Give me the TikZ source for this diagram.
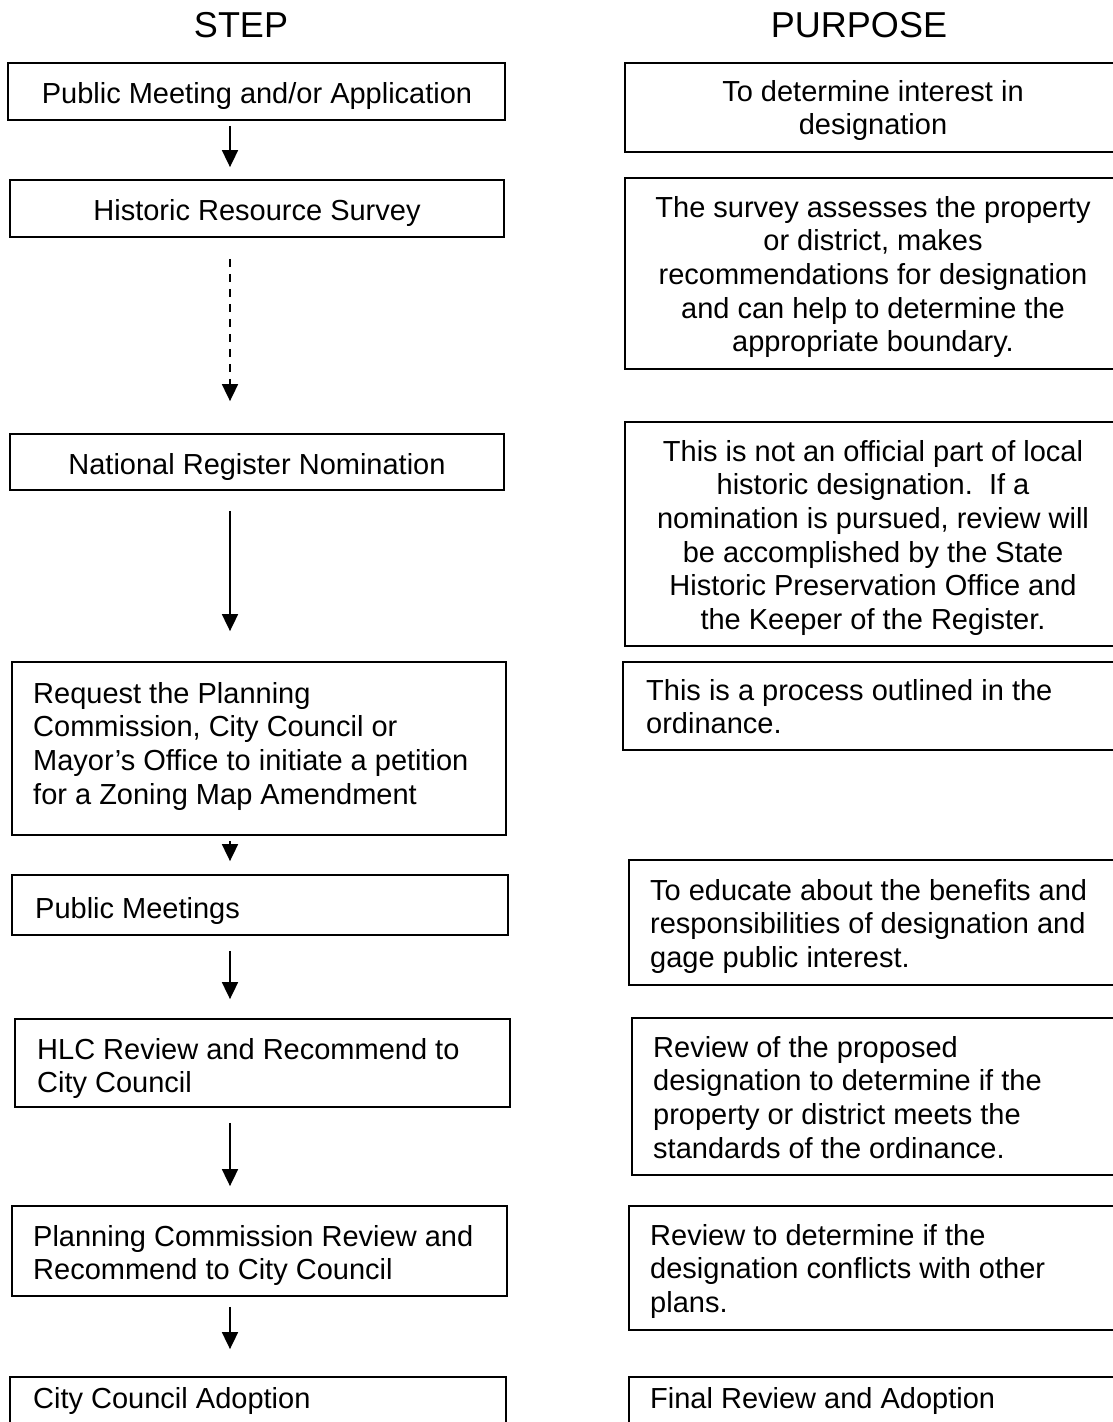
\documentclass[tikz,border=0pt]{standalone}
\usepackage{fontspec}
\setmainfont{Liberation Sans}
\usetikzlibrary{arrows.meta}
\newcommand\tsq{\rule{0pt}{22pt}}
\tikzset{
  box/.style={draw, line width=1.8pt, inner sep=0pt},
  txt/.style={inner sep=0pt, font=\fontsize{29}{33.6}\selectfont},
  head/.style={inner sep=0pt, font=\fontsize{36}{40}\selectfont, anchor=base},
  arr/.style={line width=1.8pt, -{Triangle[width=16pt,length=17pt]}},
  darr/.style={arr, dash pattern=on 8pt off 7pt}
}
\begin{document}
\begin{tikzpicture}[x=1pt,y=-1pt]
\useasboundingbox (0,0) rectangle (1113,1422);
\clip (0,0) rectangle (1113,1422);
\fill[white] (0,0) rectangle (1113,1422);

% headers
\node[head] (hstep) at (241,37) {STEP};
\node[head] (hpurp) at (859,37) {PURPOSE};

% left boxes
\node[box, minimum width=497pt, minimum height=57pt] (b1) at (256.5,91.5) {};
\node[box, minimum width=494pt, minimum height=57pt] (b2) at (257,208.5) {};
\node[box, minimum width=494pt, minimum height=56pt] (b3) at (257,462) {};
\node[box, minimum width=494pt, minimum height=173pt] (b4) at (259,748.5) {};
\node[box, minimum width=496pt, minimum height=60pt] (b5) at (260,905) {};
\node[box, minimum width=495pt, minimum height=88pt] (b6) at (262.5,1063) {};
\node[box, minimum width=495pt, minimum height=90pt] (b7) at (259.5,1251) {};
\node[box, minimum width=496pt, minimum height=73pt] (b8) at (258,1413.5) {};

% left texts
\node[txt, anchor=base] (t1) at (257,103) {Public Meeting and/or Application};
\node[txt, anchor=base] (t2) at (257,220) {Historic Resource Survey};
\node[txt, anchor=base] (t3) at (257,474) {National Register Nomination};
\node[txt, anchor=north west, align=left] (t4) at (33,681)
  {\tsq Request the Planning\\Commission, City Council or\\Mayor's Office to initiate a petition\\for a Zoning Map Amendment};
\node[txt, anchor=base west] (t5) at (35,918) {Public Meetings};
\node[txt, anchor=north west, align=left] (t6) at (37,1037)
  {\tsq HLC Review and Recommend to\\City Council};
\node[txt, anchor=north west, align=left] (t7) at (33,1224)
  {\tsq Planning Commission Review and\\Recommend to City Council};
\node[txt, anchor=base west] (t8) at (33,1408) {City Council Adoption};

% right boxes
\node[box, minimum width=496pt, minimum height=89pt] (r1) at (873,107.5) {};
\node[box, minimum width=496pt, minimum height=191pt] (r2) at (873,273.5) {};
\node[box, minimum width=496pt, minimum height=224pt] (r3) at (873,534) {};
\node[box, minimum width=496pt, minimum height=88pt] (r4) at (871,706) {};
\node[box, minimum width=496pt, minimum height=125pt] (r5) at (877,922.5) {};
\node[box, minimum width=496pt, minimum height=157pt] (r6) at (880,1096.5) {};
\node[box, minimum width=496pt, minimum height=124pt] (r7) at (877,1268) {};
\node[box, minimum width=496pt, minimum height=73pt] (r8) at (877,1413.5) {};

% right texts
\node[txt, anchor=north, align=center] (p1) at (873,79)
  {\tsq To determine interest in\\designation};
\node[txt, anchor=north, align=center] (p2) at (873,195)
  {\tsq The survey assesses the property\\or district, makes\\recommendations for designation\\and can help to determine the\\appropriate boundary.};
\node[txt, anchor=north, align=center] (p3) at (873,439)
  {\tsq This is not an official part of local\\historic designation.\ \ If a\\nomination is pursued, review will\\be accomplished by the State\\Historic Preservation Office and\\the Keeper of the Register.};
\node[txt, anchor=north west, align=left] (p4) at (646,678)
  {\tsq This is a process outlined in the\\ordinance.};
\node[txt, anchor=north west, align=left] (p5) at (650,878)
  {\tsq To educate about the benefits and\\responsibilities of designation and\\gage public interest.};
\node[txt, anchor=north west, align=left] (p6) at (653,1035)
  {\tsq Review of the proposed\\designation to determine if the\\property or district meets the\\standards of the ordinance.};
\node[txt, anchor=north west, align=left] (p7) at (650,1223)
  {\tsq Review to determine if the\\designation conflicts with other\\plans.};
\node[txt, anchor=base west] (p8) at (650,1408) {Final Review and Adoption};

% arrows
\coordinate (ax) at (230,0);
\draw[arr, shorten <=5pt, shorten >=12pt] (b1.south -| ax) -- (b2.north -| ax);
\draw[darr, shorten <=21pt, shorten >=32pt] (b2.south -| ax) -- (b3.north -| ax);
\draw[arr, shorten <=20pt, shorten >=30pt] (b3.south -| ax) -- (b4.north -| ax);
\draw[arr, shorten <=5pt, shorten >=13pt] (b4.south -| ax) -- (b5.north -| ax);
\draw[arr, shorten <=15pt, shorten >=19pt] (b5.south -| ax) -- (b6.north -| ax);
\draw[arr, shorten <=15pt, shorten >=19pt] (b6.south -| ax) -- (b7.north -| ax);
\draw[arr, shorten <=10pt, shorten >=27pt] (b7.south -| ax) -- (b8.north -| ax);
\end{tikzpicture}
\end{document}
